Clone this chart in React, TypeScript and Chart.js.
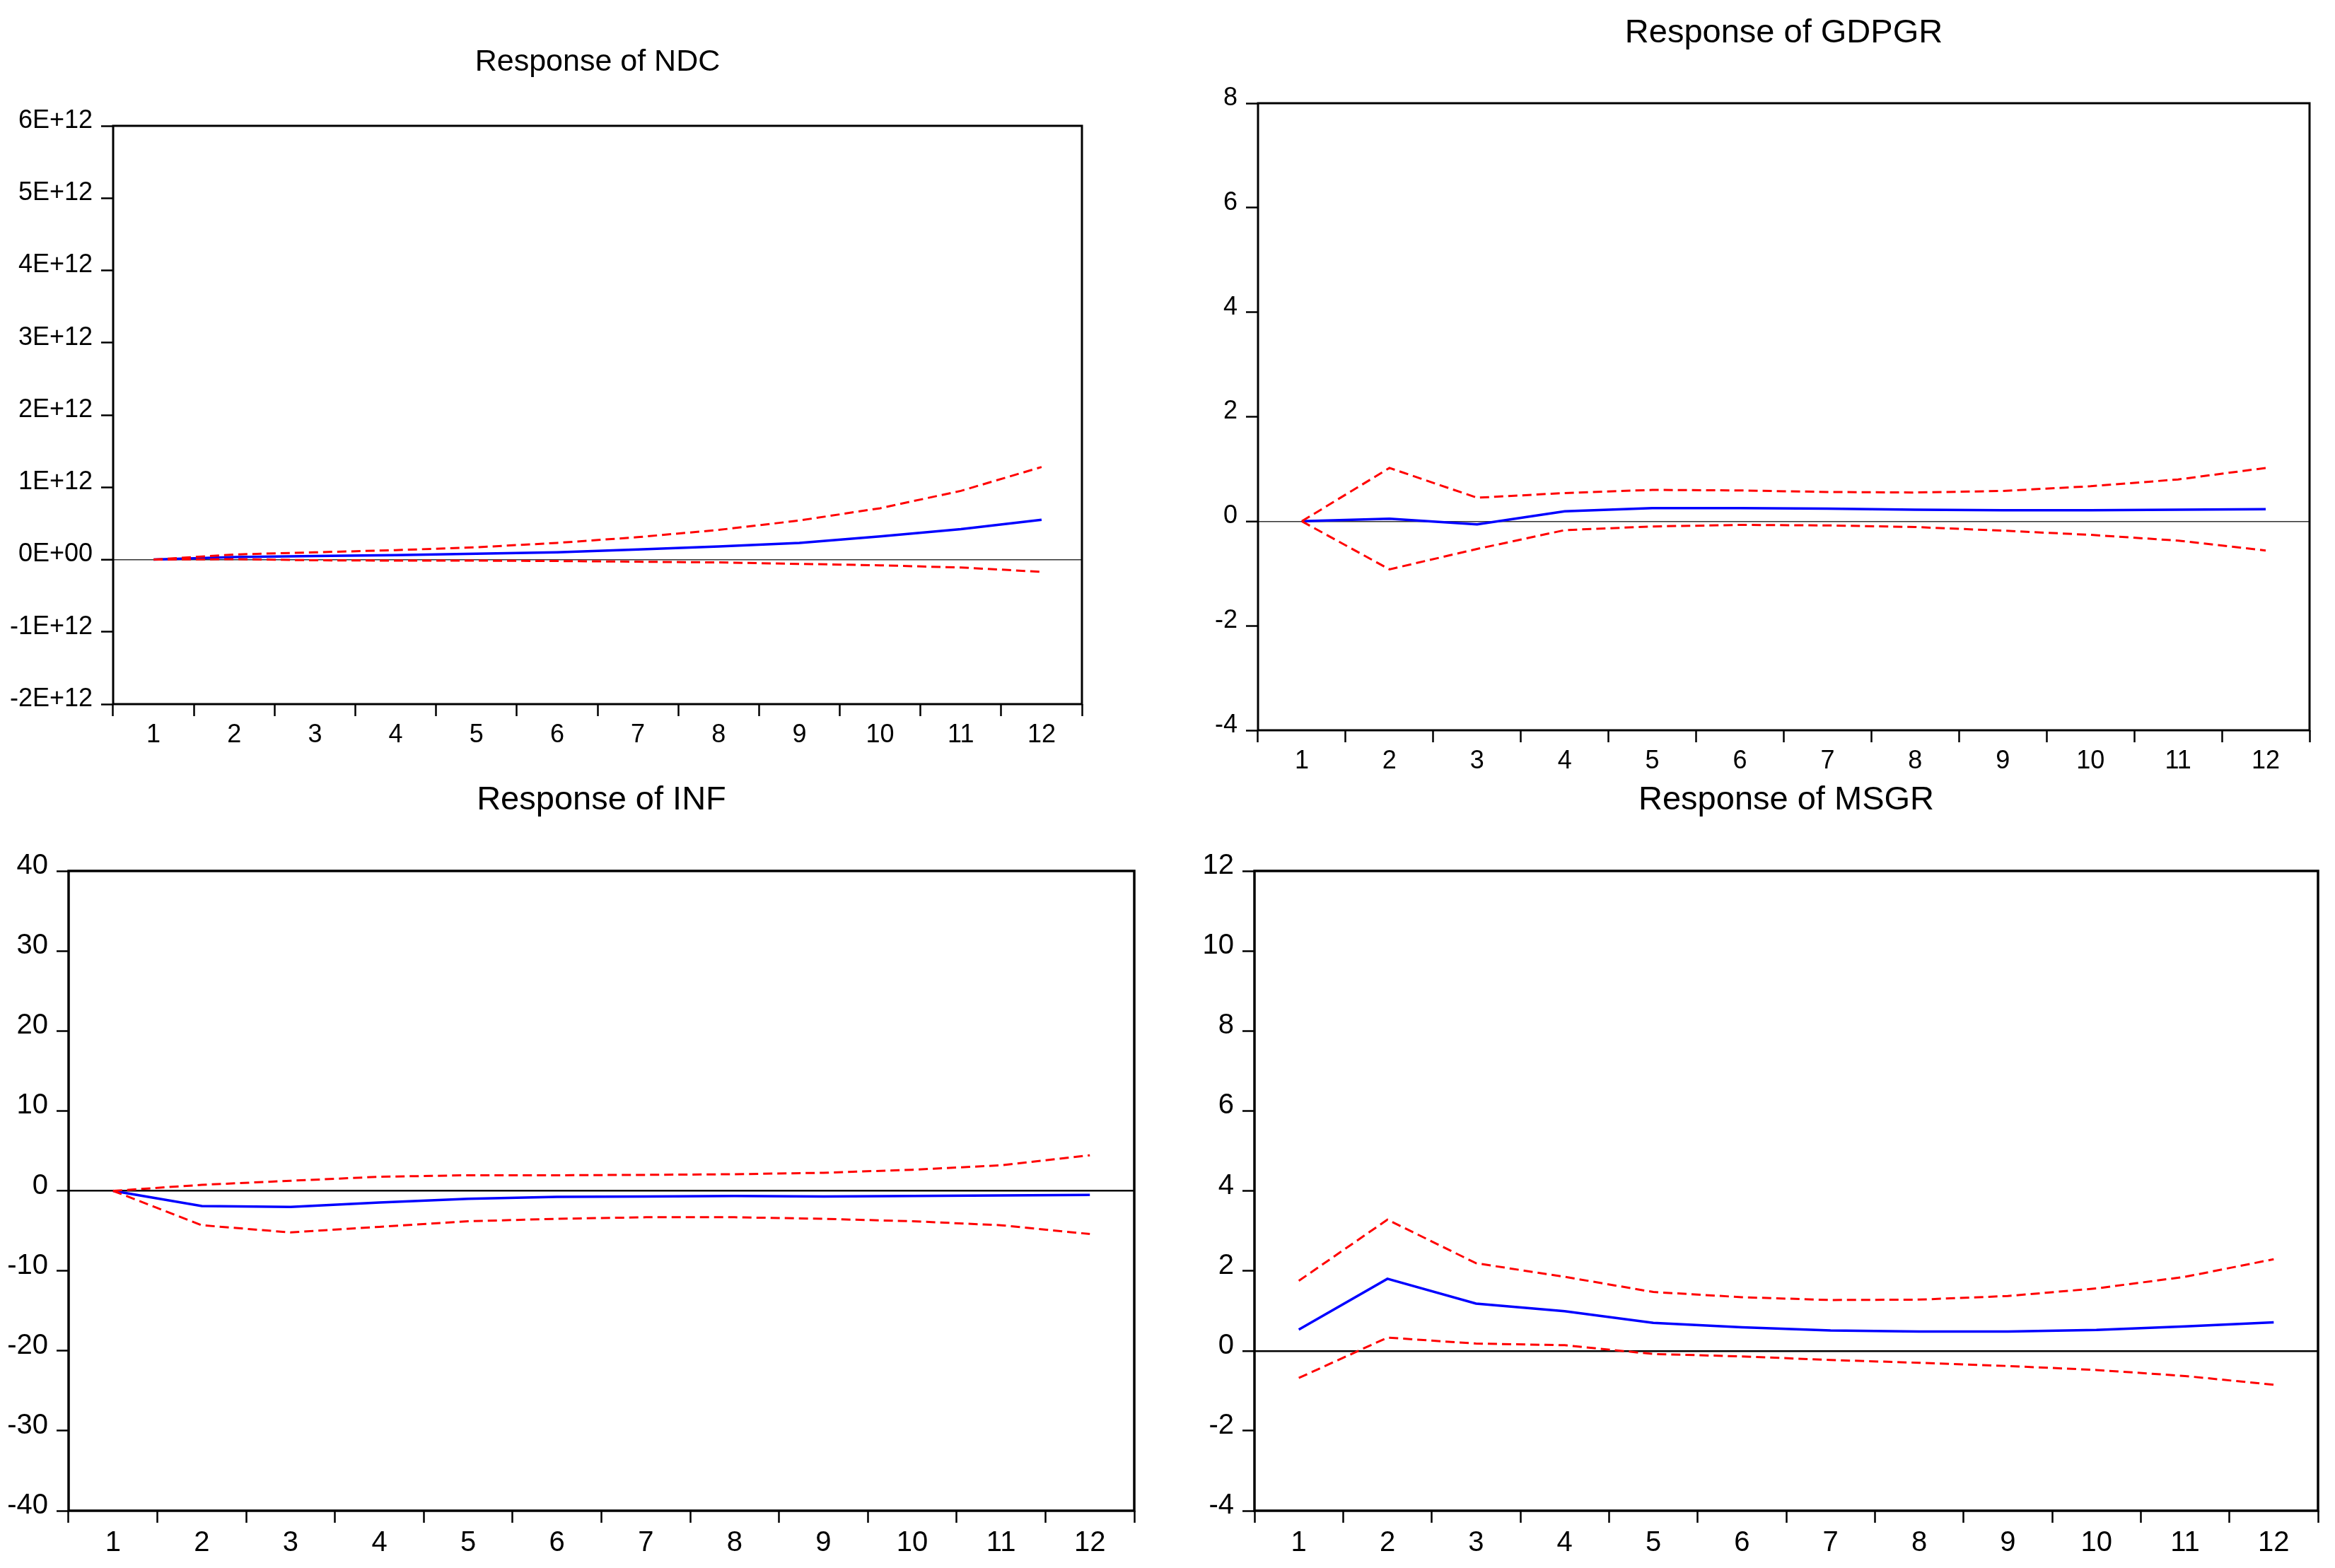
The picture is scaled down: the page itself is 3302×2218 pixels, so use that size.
import React, { useEffect, useRef } from 'react';
import { Chart, registerables } from 'chart.js';

Chart.register(...registerables);

const FONT = '"Liberation Sans", Arial, Helvetica, sans-serif';

// Horizon (periods)
const periods = ['1', '2', '3', '4', '5', '6', '7', '8', '9', '10', '11', '12'];

// Response of NDC (raw units)
const ndcResponse = [0, 0.035e12, 0.05e12, 0.06e12, 0.08e12, 0.1e12, 0.14e12, 0.18e12, 0.23e12, 0.32e12, 0.42e12, 0.55e12];
const ndcUpper = [0, 0.07e12, 0.1e12, 0.13e12, 0.17e12, 0.23e12, 0.31e12, 0.41e12, 0.54e12, 0.71e12, 0.95e12, 1.28e12];
const ndcLower = [0, 0.005e12, -0.01e12, -0.015e12, -0.015e12, -0.02e12, -0.03e12, -0.04e12, -0.06e12, -0.08e12, -0.11e12, -0.17e12];

// Response of GDPGR
const gdpgrResponse = [0, 0.05, -0.06, 0.19, 0.25, 0.25, 0.24, 0.22, 0.21, 0.21, 0.22, 0.23];
const gdpgrUpper = [0, 1.02, 0.45, 0.54, 0.6, 0.59, 0.56, 0.55, 0.58, 0.67, 0.8, 1.02];
const gdpgrLower = [0, -0.92, -0.53, -0.17, -0.1, -0.07, -0.08, -0.11, -0.18, -0.26, -0.37, -0.56];

// Response of INF
const infResponse = [0, -1.9, -2.0, -1.45, -1.0, -0.75, -0.7, -0.63, -0.7, -0.63, -0.57, -0.5];
const infUpper = [0, 0.75, 1.26, 1.76, 1.95, 1.95, 2.0, 2.08, 2.26, 2.64, 3.2, 4.45];
const infLower = [0, -4.3, -5.2, -4.5, -3.8, -3.5, -3.3, -3.3, -3.5, -3.8, -4.3, -5.4];

// Response of MSGR
const msgrResponse = [0.53, 1.8, 1.18, 0.99, 0.7, 0.59, 0.51, 0.48, 0.48, 0.52, 0.61, 0.71];
const msgrUpper = [1.75, 3.28, 2.19, 1.85, 1.47, 1.34, 1.27, 1.28, 1.37, 1.56, 1.85, 2.29];
const msgrLower = [-0.68, 0.33, 0.18, 0.14, -0.08, -0.14, -0.23, -0.3, -0.38, -0.48, -0.63, -0.85];

type PanelCfg = {
  title: string;
  titleSize: number;
  titleY: number;
  L: number; T: number; R: number; B: number;
  cLeft: number; cTop: number;
  min: number; max: number; step: number;
  fmt: (v: number) => string;
  tickSize: number;
  zeroColor: string;
  zeroWidth: number;
  frameWidth: number;
  mid: number[]; upper: number[]; lower: number[];
};

const fmtE12 = (v: number) => {
  const n = Math.round(v / 1e12);
  return n === 0 ? '0E+00' : `${n}E+12`;
};
const fmtNum = (v: number) => String(Math.round(v));

const panels: PanelCfg[] = [
  {
    title: 'Response of NDC', titleSize: 43, titleY: 88,
    L: 160, T: 178, R: 1530, B: 996, cLeft: 0, cTop: 0,
    min: -2e12, max: 6e12, step: 1e12, fmt: fmtE12, tickSize: 36,
    zeroColor: '#333333', zeroWidth: 1.5, frameWidth: 3,
    mid: ndcResponse, upper: ndcUpper, lower: ndcLower,
  },
  {
    title: 'Response of GDPGR', titleSize: 47, titleY: 47,
    L: 1779, T: 146, R: 3266, B: 1033, cLeft: 1640, cTop: 0,
    min: -4, max: 8, step: 2, fmt: fmtNum, tickSize: 36,
    zeroColor: '#333333', zeroWidth: 1.5, frameWidth: 3,
    mid: gdpgrResponse, upper: gdpgrUpper, lower: gdpgrLower,
  },
  {
    title: 'Response of INF', titleSize: 47, titleY: 1132,
    L: 97, T: 1232, R: 1604, B: 2137, cLeft: 0, cTop: 1090,
    min: -40, max: 40, step: 10, fmt: fmtNum, tickSize: 40,
    zeroColor: '#000000', zeroWidth: 2.5, frameWidth: 3.5,
    mid: infResponse, upper: infUpper, lower: infLower,
  },
  {
    title: 'Response of MSGR', titleSize: 47, titleY: 1132,
    L: 1774, T: 1232, R: 3278, B: 2137, cLeft: 1640, cTop: 1090,
    min: -4, max: 12, step: 2, fmt: fmtNum, tickSize: 40,
    zeroColor: '#000000', zeroWidth: 2.5, frameWidth: 3.5,
    mid: msgrResponse, upper: msgrUpper, lower: msgrLower,
  },
];

const framePlugin = {
  id: 'frameAndTitle',
  afterDraw(chart: any, _args: any, opts: any) {
    const { ctx, chartArea: a } = chart;
    ctx.save();
    ctx.strokeStyle = '#000';
    ctx.lineWidth = opts.width;
    ctx.strokeRect(a.left, a.top, a.right - a.left, a.bottom - a.top);
    ctx.fillStyle = '#000';
    ctx.font = `${opts.titleSize}px ${FONT}`;
    ctx.textAlign = 'center';
    ctx.textBaseline = 'middle';
    ctx.fillText(opts.title, (a.left + a.right) / 2, opts.titleY);
    ctx.restore();
  },
};

const X_AXIS_H = 80;
const RIGHT_PAD = 14;

function Panel({ cfg }: { cfg: PanelCfg }) {
  const ref = useRef<HTMLCanvasElement>(null);
  const width = cfg.R + RIGHT_PAD - cfg.cLeft;
  const height = cfg.B + X_AXIS_H - cfg.cTop;

  useEffect(() => {
    const canvas = ref.current;
    if (!canvas) return;
    const redLine = (data: number[]) => ({
      data,
      borderColor: '#ff0000',
      borderWidth: 3,
      borderDash: [13, 7],
      pointRadius: 0,
      tension: 0,
      fill: false,
    });
    const chart = new Chart(canvas, {
      type: 'line',
      data: {
        labels: periods,
        datasets: [
          redLine(cfg.upper),
          redLine(cfg.lower),
          {
            data: cfg.mid,
            borderColor: '#0000ff',
            borderWidth: 3.5,
            pointRadius: 0,
            tension: 0,
            fill: false,
          },
        ],
      },
      options: {
        responsive: false,
        animation: false,
        devicePixelRatio: 1,
        layout: {
          padding: { top: cfg.T - cfg.cTop, right: RIGHT_PAD, bottom: 0, left: 0 },
        },
        plugins: {
          legend: { display: false },
          tooltip: { enabled: false },
          title: { display: false },
          frameAndTitle: {
            width: cfg.frameWidth,
            title: cfg.title,
            titleSize: cfg.titleSize,
            titleY: cfg.titleY - cfg.cTop,
          },
        } as any,
        scales: {
          x: {
            type: 'category',
            offset: true,
            grid: {
              offset: true,
              drawOnChartArea: false,
              drawTicks: true,
              tickLength: 17,
              tickColor: '#000',
              tickWidth: 2.5,
            },
            border: { display: false },
            ticks: {
              color: '#000',
              font: { family: FONT, size: cfg.tickSize },
              padding: 5,
              maxRotation: 0,
              autoSkip: false,
            },
            afterFit: (s: any) => {
              s.height = X_AXIS_H;
            },
          },
          y: {
            type: 'linear',
            min: cfg.min,
            max: cfg.max,
            grid: {
              drawOnChartArea: true,
              drawTicks: true,
              tickLength: 17,
              tickColor: '#000',
              tickWidth: 2.5,
              color: (ctx: any) => (ctx.tick && ctx.tick.value === 0 ? cfg.zeroColor : 'rgba(0,0,0,0)'),
              lineWidth: (ctx: any) => (ctx.tick && ctx.tick.value === 0 ? cfg.zeroWidth : 1),
            },
            border: { display: false },
            ticks: {
              stepSize: cfg.step,
              color: '#000',
              font: { family: FONT, size: cfg.tickSize },
              padding: 12,
              labelOffset: -7,
              callback: (v: any) => cfg.fmt(Number(v)),
            },
            afterFit: (s: any) => {
              s.width = cfg.L - cfg.cLeft;
            },
          },
        },
      } as any,
      plugins: [framePlugin],
    });
    return () => chart.destroy();
  }, [cfg]);

  return (
    <canvas
      ref={ref}
      width={width}
      height={height}
      style={{ position: 'absolute', left: cfg.cLeft, top: cfg.cTop, width, height }}
    />
  );
}

export default function App() {
  return (
    <div
      style={{
        position: 'absolute',
        left: 0,
        top: 0,
        width: 3302,
        height: 2218,
        background: '#ffffff',
        overflow: 'hidden',
      }}
    >
      {panels.map((p) => (
        <Panel key={p.title} cfg={p} />
      ))}
    </div>
  );
}
